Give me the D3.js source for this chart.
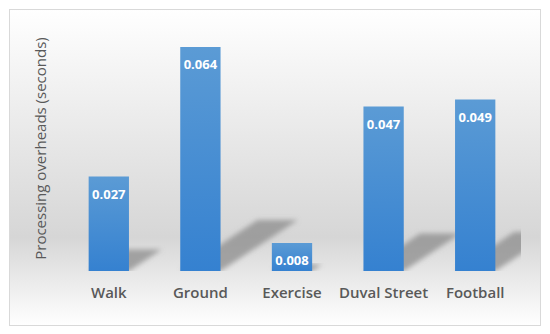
<!DOCTYPE html>
<html>
<head>
<meta charset="utf-8">
<script src="https://cdn.jsdelivr.net/npm/d3@7"></script>
<style>
  html, body { margin: 0; padding: 0; background: #ffffff; }
  svg { display: block; }
</style>
</head>
<body>
<svg id="chart" width="550" height="334"></svg>
<script>
const categories = ["Walk", "Ground", "Exercise", "Duval Street", "Football"];
const values = [0.027, 0.064, 0.008, 0.047, 0.049];
const valueLabels = ["0.027", "0.064", "0.008", "0.047", "0.049"];
const yTitle = "Processing overheads (seconds)";

const svg = d3.select("#chart");
const plot = { left: 63, right: 521, top: 26, bottom: 271 };

const defs = svg.append("defs");
const bg = defs.append("linearGradient").attr("id", "bgGrad")
  .attr("x1", 0).attr("y1", 0).attr("x2", 0).attr("y2", 1);
bg.append("stop").attr("offset", "0%").attr("stop-color", "#ffffff");
bg.append("stop").attr("offset", "72%").attr("stop-color", "#d6d6d6");
bg.append("stop").attr("offset", "100%").attr("stop-color", "#ffffff");

const barGrad = defs.append("linearGradient").attr("id", "barGrad")
  .attr("x1", 0).attr("y1", 0).attr("x2", 0).attr("y2", 1);
barGrad.append("stop").attr("offset", "0%").attr("stop-color", "#5b9bd5");
barGrad.append("stop").attr("offset", "100%").attr("stop-color", "#3581d0");

const blur = defs.append("filter").attr("id", "blur")
  .attr("x", "-20%").attr("y", "-20%").attr("width", "140%").attr("height", "140%");
blur.append("feGaussianBlur").attr("stdDeviation", 2.5);

defs.append("clipPath").attr("id", "plotClip")
  .append("rect").attr("x", plot.left).attr("y", 0)
  .attr("width", plot.right - plot.left).attr("height", plot.bottom);

// background + border
svg.append("rect").attr("x", 9.5).attr("y", 9.5).attr("width", 531).attr("height", 316)
  .attr("fill", "url(#bgGrad)").attr("stroke", "#d9d9d9").attr("stroke-width", 1);

const x = d3.scaleBand().domain(categories).range([plot.left, plot.right])
  .paddingInner(0.56).paddingOuter(0.28);
const y = d3.scaleLinear().domain([0, 0.07]).range([plot.bottom, plot.top]);

// shadows
const shadowG = svg.append("g").attr("clip-path", "url(#plotClip)");
const shadowGroups = shadowG.selectAll("g").data(categories).join("g").attr("filter", "url(#blur)");
shadowGroups.append("path")
  .attr("fill", "#8c8c8c")
  .attr("opacity", 0.75)
  .attr("d", (c, i) => {
    const x0 = x(c), x1 = x(c) + x.bandwidth();
    const h = y(0) - y(values[i]);
    const dx = 0.345 * h, dy = 0.228 * h;
    const b = y(0);
    return `M${x0},${b}L${x1},${b}L${x1 + dx},${b - dy}L${x0 + dx},${b - dy}Z`;
  });

// bars
svg.append("g").selectAll("rect").data(categories).join("rect")
  .attr("x", c => x(c))
  .attr("y", (c, i) => y(values[i]))
  .attr("width", x.bandwidth())
  .attr("height", (c, i) => y(0) - y(values[i]))
  .attr("fill", "url(#barGrad)");

// value labels
svg.append("g").selectAll("text").data(categories).join("text")
  .attr("x", c => x(c) + x.bandwidth() / 2)
  .attr("y", (c, i) => y(values[i]) + 22)
  .attr("text-anchor", "middle")
  .attr("font-family", "'Open Sans', sans-serif")
  .attr("font-weight", "bold")
  .attr("font-size", 13)
  .attr("fill", "#ffffff")
  .text((c, i) => valueLabels[i]);

// x axis labels
const xAxis = d3.axisBottom(x).tickSize(0).tickPadding(16);
const gx = svg.append("g").attr("transform", `translate(0,${plot.bottom})`).call(xAxis);
gx.select(".domain").remove();
gx.selectAll("text")
  .attr("font-family", "'Open Sans', sans-serif")
  .attr("font-weight", 600)
  .attr("font-size", 15)
  .attr("fill", "#595959");

// y title
svg.append("text")
  .attr("transform", `translate(46,${(plot.top + plot.bottom) / 2}) rotate(-90)`)
  .attr("text-anchor", "middle")
  .attr("font-family", "'Open Sans', sans-serif")
  .attr("font-size", 15)
  .attr("fill", "#595959")
  .text(yTitle);
</script>
</body>
</html>
